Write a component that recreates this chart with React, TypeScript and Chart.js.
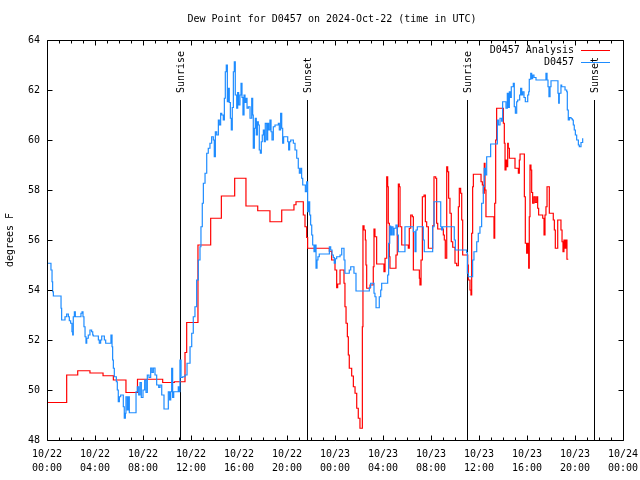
import { useEffect, useRef } from "react";
import { Chart, registerables } from "chart.js";

Chart.register(...registerables);

const FONT = "'DejaVu Sans Mono', monospace";
const TITLE = "Dew Point for D0457 on 2024-Oct-22 (time in UTC)";
const Y_LABEL = "degrees F";
const Y_MIN = 48;
const Y_MAX = 64;
const Y_STEP = 2;
const X_MIN = 0;
const X_MAX = 48;
const X_STEP = 4;
const X_TICK_LABELS = [
  ["10/22", "00:00"], ["10/22", "04:00"], ["10/22", "08:00"], ["10/22", "12:00"],
  ["10/22", "16:00"], ["10/22", "20:00"], ["10/23", "00:00"], ["10/23", "04:00"],
  ["10/23", "08:00"], ["10/23", "12:00"], ["10/23", "16:00"], ["10/23", "20:00"],
  ["10/24", "00:00"],
];

const sunEventHours = [11.1, 21.69, 35.03, 45.6];
const sunEventLabels = ["Sunrise", "Sunset", "Sunrise", "Sunset"];

const ANALYSIS_LABEL = "D0457 Analysis";
const analysisHours = [
  0, 1.64, 2.56, 3.58, 4.67, 5.53, 6.58, 7.54, 9.64, 10.61, 11.5, 11.64, 12.58, 13.64, 14.53,
  15.64, 16.58, 17.56, 18.58, 19.56, 20.58, 20.75, 21.36, 21.5, 21.64, 21.72, 23.53, 23.72,
  24.0, 24.14, 24.22, 24.42, 24.75, 24.83, 24.92, 25.03, 25.11, 25.19, 25.39, 25.53, 25.67,
  25.81, 25.94, 26.08, 26.28, 26.33, 26.42, 26.53, 26.58, 26.64, 26.92, 27.19, 27.25, 27.33,
  27.47, 28.08, 28.17, 28.31, 28.39, 28.44, 28.53, 28.58, 29.08, 29.19, 29.28, 29.36, 29.42,
  29.56, 30.11, 30.19, 30.31, 30.44, 30.53, 31.03, 31.08, 31.17, 31.28, 31.42, 31.53, 31.64,
  31.78, 32.14, 32.25, 32.39, 32.47, 32.56, 33.03, 33.11, 33.19, 33.31, 33.39, 33.47, 33.58,
  33.69, 33.81, 34.0, 34.14, 34.28, 34.36, 34.47, 34.56, 34.64, 35.06, 35.11, 35.25, 35.33,
  35.39, 35.47, 35.53, 36.17, 36.28, 36.36, 36.44, 36.5, 36.58, 37.25, 37.31, 37.39, 37.47,
  38.03, 38.11, 38.17, 38.25, 38.31, 38.39, 38.44, 38.53, 39.0, 39.28, 39.36, 39.42, 39.78,
  39.86, 39.97, 40.06, 40.14, 40.19, 40.25, 40.33, 40.39, 40.47, 40.58, 40.69, 40.81, 40.89,
  40.97, 41.31, 41.42, 41.5, 41.58, 41.67, 41.86, 42.19, 42.28, 42.36, 42.56, 42.83, 42.92,
  43.0, 43.08, 43.17, 43.25, 43.33, 43.44,
];
const analysisValues = [
  49.5, 50.6, 50.77, 50.68, 50.57, 50.4, 49.9, 50.43, 50.3, 50.33, 51.5, 52.7, 55.8, 56.87, 57.76,
  58.47, 57.36, 57.17, 56.73, 57.2, 57.41, 57.53, 57.0, 56.53, 56.1, 55.67, 55.55, 55.2,
  54.8, 54.09, 54.24, 54.8, 54.27, 53.33, 52.67, 52.13, 51.4, 50.87, 50.56, 50.13, 49.87,
  49.27, 48.87, 48.47, 52.53, 56.57, 56.4, 56.0, 55.0, 54.07, 54.2, 54.93, 56.44, 56.13,
  55.04, 54.73, 55.27, 58.53, 58.13, 56.67, 55.33, 54.87, 55.4, 56.53, 58.24, 58.13, 56.53,
  55.8, 55.67, 56.47, 57.0, 56.93, 54.8, 54.47, 54.2, 55.2, 57.73, 57.8, 56.73, 56.53,
  55.67, 56.57, 58.53, 58.47, 56.67, 56.44, 56.2, 56.0, 55.27, 58.93, 58.73, 57.67, 57.07,
  55.93, 55.71, 55.07, 54.97, 57.33, 58.07, 57.87, 56.8, 55.4, 55.0, 54.4, 54.0, 53.8,
  56.27, 58.13, 58.63, 58.33, 58.2, 57.87, 59.07, 58.0, 56.93, 56.07, 57.47, 60.0, 61.27,
  60.67, 59.87, 58.8, 59.2, 58.93, 59.87, 59.67, 59.27, 58.87, 58.67, 59.2, 59.44, 57.73,
  55.87, 55.47, 55.87, 54.87, 56.93, 59.0, 58.8, 57.9, 57.47, 57.73, 57.5, 57.73, 57.27,
  57.0, 56.87, 56.2, 57.0, 57.33, 58.13, 57.07, 56.8, 56.4, 55.67, 56.8, 56.4, 55.93,
  55.53, 56.0, 55.67, 56.0, 55.23, 55.23,
];

const OBS_LABEL = "D0457";
const obsHours = [
  0, 0.33, 0.42, 0.47, 0.53, 1.17, 1.22, 1.5, 1.64, 1.78, 1.86, 1.97, 2.08, 2.14, 2.19, 2.28,
  2.36, 2.83, 2.92, 3.0, 3.08, 3.17, 3.25, 3.31, 3.44, 3.58, 3.72, 3.81, 3.86, 4.28, 4.36,
  4.47, 4.56, 4.78, 4.89, 5.33, 5.42, 5.47, 5.53, 5.61, 5.78, 5.86, 5.94, 6.03, 6.14, 6.36,
  6.44, 6.53, 6.58, 6.69, 6.78, 6.86, 7.42, 7.53, 7.64, 7.75, 7.86, 8.0, 8.14, 8.25, 8.36,
  8.5, 8.64, 8.75, 8.86, 9.0, 9.14, 9.31, 9.42, 9.56, 9.75, 10.06, 10.11, 10.22, 10.31,
  10.39, 10.47, 10.56, 10.94, 11.0, 11.08, 11.17, 11.31, 11.5, 11.67, 11.92, 12.06, 12.19,
  12.33, 12.47, 12.61, 12.75, 12.83, 12.94, 13.03, 13.17, 13.31, 13.44, 13.58, 13.72, 13.86,
  13.94, 14.03, 14.14, 14.28, 14.36, 14.47, 14.56, 14.69, 14.78, 14.86, 14.94, 15.03, 15.11,
  15.19, 15.28, 15.36, 15.44, 15.53, 15.61, 15.69, 15.81, 15.89, 15.97, 16.08, 16.17, 16.25,
  16.33, 16.42, 16.5, 16.58, 16.67, 16.78, 16.92, 17.06, 17.14, 17.19, 17.28, 17.36, 17.44,
  17.53, 17.61, 17.69, 17.78, 17.86, 17.94, 18.03, 18.11, 18.19, 18.31, 18.39, 18.47, 18.58,
  18.67, 18.75, 18.86, 19.0, 19.28, 19.36, 19.47, 19.56, 19.64, 19.72, 20.06, 20.14, 20.22,
  20.31, 20.53, 20.67, 20.81, 20.94, 21.03, 21.14, 21.22, 21.31, 21.53, 21.64, 21.72, 21.81,
  21.89, 21.97, 22.06, 22.14, 22.25, 22.33, 22.42, 22.5, 22.58, 22.69, 23.53, 23.64, 23.75,
  23.86, 23.94, 24.03, 24.14, 24.42, 24.56, 24.75, 24.83, 25.19, 25.31, 25.58, 25.75, 26.86,
  26.97, 27.25, 27.33, 27.42, 27.69, 27.81, 27.89, 28.39, 28.47, 28.56, 28.64, 28.72, 28.83,
  28.92, 29.08, 29.19, 29.28, 29.83, 30.53, 30.67, 30.75, 30.86, 31.36, 31.44, 32.14, 32.25,
  32.81, 32.89, 32.97, 33.94, 34.03, 34.97, 35.03, 35.11, 35.47, 35.58, 35.81, 35.94, 36.08,
  36.22, 36.36, 36.44, 36.53, 36.64, 36.97, 37.53, 37.61, 37.75, 37.89, 37.97, 38.25, 38.36,
  38.44, 38.53, 38.61, 38.69, 38.86, 38.94, 39.03, 39.14, 39.22, 39.39, 39.47, 39.56, 39.64,
  39.75, 39.86, 40.06, 40.14, 40.19, 40.31, 40.39, 40.47, 40.58, 40.75, 41.58, 41.67, 41.75,
  41.83, 41.92, 42.0, 42.58, 42.64, 42.69, 42.83, 42.89, 43.17, 43.31, 43.36, 43.44, 43.53,
  43.67, 43.78, 43.86, 43.94, 44.03, 44.14, 44.28, 44.36, 44.5, 44.64,
];
const obsValues = [
  55.07, 54.8, 54.33, 53.93, 53.76, 53.27, 52.8, 52.93, 53.04, 52.93, 52.77, 52.67, 52.33, 52.2, 52.93, 53.13,
  52.93, 53.07, 53.13, 52.93, 52.53, 52.13, 51.87, 52.07, 52.2, 52.4, 52.33, 52.2, 52.16, 52.0, 51.87,
  52.0, 52.16, 52.0, 51.87, 52.2, 51.73, 51.2, 50.87, 50.53, 50.33, 50.0, 49.53, 49.73, 49.8, 49.33,
  48.87, 49.07, 49.73, 49.2, 49.73, 49.09, 49.93, 50.13, 49.8, 50.3, 49.7, 50.0, 50.4, 49.9, 50.6,
  50.5, 50.88, 50.7, 50.88, 50.6, 50.2, 50.1, 50.2, 49.8, 49.24, 49.24, 49.93, 49.6, 49.93,
  50.87, 49.7, 49.93, 50.13, 49.93, 51.2, 50.5, 50.53, 50.6, 51.07, 51.73, 52.27, 52.93,
  53.33, 54.4, 55.2, 55.73, 56.53, 57.47, 58.27, 58.67, 59.47, 59.67, 59.87, 60.13, 60.0,
  59.33, 60.33, 60.2, 60.8, 60.6, 61.07, 61.0, 60.8, 61.67, 62.73, 63.0, 61.53, 62.07,
  61.5, 60.87, 60.4, 61.3, 62.73, 63.13, 61.8, 61.27, 61.9, 61.4, 61.8, 62.27, 61.7,
  61.0, 61.8, 61.5, 61.67, 61.27, 61.33, 60.87, 61.67, 61.0, 59.67, 60.47, 60.87, 60.2,
  60.73, 60.6, 59.6, 59.47, 59.93, 60.2, 60.4, 59.93, 60.67, 60.0, 60.67, 60.4, 60.8,
  60.33, 60.0, 60.53, 60.6, 60.67, 60.4, 61.07, 60.47, 59.87, 60.13, 59.93, 59.6, 59.93,
  60.0, 59.87, 59.6, 59.27, 58.87, 58.67, 58.87, 58.47, 58.2, 57.93, 58.33, 57.13, 57.53,
  57.0, 56.6, 56.2, 55.8, 55.53, 55.8, 54.87, 55.2, 55.33, 55.44, 55.73, 55.6, 55.4,
  55.3, 55.07, 55.25, 55.33, 55.4, 55.67, 55.2, 54.67, 54.8, 54.93, 54.67, 53.96, 54.1,
  54.27, 53.87, 53.73, 53.29, 53.73, 54.0, 54.27, 54.6, 55.87, 56.56, 56.2, 56.53, 56.2,
  56.47, 56.6, 56.2, 55.53, 56.53, 56.33, 55.53, 56.4, 56.53, 56.0, 55.53, 56.53, 57.53,
  56.53, 56.4, 56.53, 56.0, 55.6, 55.5, 54.67, 54.53, 55.2, 55.53, 55.93, 56.27, 56.53,
  57.47, 58.13, 58.87, 58.6, 59.33, 59.84, 60.8, 60.6, 60.87, 60.75, 61.53, 61.27, 61.87,
  61.3, 61.93, 61.7, 62.13, 62.27, 61.33, 61.07, 61.53, 61.6, 61.8, 62.07, 61.8, 61.93,
  61.7, 61.53, 61.8, 61.93, 62.43, 62.67, 62.45, 62.6, 62.5, 62.4, 62.67, 62.4, 62.13,
  61.73, 62.13, 62.37, 61.87, 61.47, 61.87, 62.2, 62.13, 62.0, 61.93, 61.2, 60.8, 60.9,
  60.85, 60.8, 60.6, 60.4, 60.2, 60.0, 59.8, 59.73, 59.9, 60.07,
];

const ANALYSIS_COLOR = "#ff0000";
const OBS_COLOR = "#1e8cff";

const gnuFrame = {
  id: "gnuFrame",
  beforeDatasetsDraw(chart: any) {
    const { ctx, chartArea: a, scales } = chart;
    const xs = scales.x;
    ctx.save();
    ctx.strokeStyle = "#000";
    ctx.fillStyle = "#000";
    ctx.lineWidth = 1;
    ctx.font = `10px ${FONT}`;
    // title
    ctx.textAlign = "center";
    ctx.textBaseline = "middle";
    ctx.fillText(TITLE, (a.left + a.right) / 2 - 3, 19);
    const lineTop = a.top + (a.bottom - a.top) * 0.15;
    sunEventHours.forEach((h, i) => {
      const px = Math.round(xs.getPixelForValue(h)) + 0.5;
      ctx.beginPath();
      ctx.moveTo(px, lineTop);
      ctx.lineTo(px, a.bottom);
      ctx.stroke();
      ctx.save();
      ctx.translate(px + 1, lineTop - 7);
      ctx.rotate(-Math.PI / 2);
      ctx.textAlign = "left";
      ctx.textBaseline = "middle";
      ctx.fillText(sunEventLabels[i], 0, 0);
      ctx.restore();
    });
    ctx.restore();
  },
  afterDatasetsDraw(chart: any) {
    const { ctx, chartArea: a, scales } = chart;
    const xs = scales.x;
    const ys = scales.y;
    ctx.save();
    ctx.strokeStyle = "#000";
    ctx.lineWidth = 1;
    const L = Math.round(a.left) + 0.5;
    const R = Math.round(a.right) + 0.5;
    const T = Math.round(a.top) + 0.5;
    const B = Math.round(a.bottom) + 0.5;
    ctx.beginPath();
    ctx.rect(L, T, R - L, B - T);
    ctx.stroke();
    ctx.beginPath();
    for (let h = X_MIN; h <= X_MAX; h += 1) {
      const px = Math.round(xs.getPixelForValue(h)) + 0.5;
      const len = h % X_STEP === 0 ? 5 : 3;
      ctx.moveTo(px, B);
      ctx.lineTo(px, B - len);
      ctx.moveTo(px, T);
      ctx.lineTo(px, T + len);
    }
    for (let v = Y_MIN; v <= Y_MAX; v += Y_STEP) {
      const py = Math.round(ys.getPixelForValue(v)) + 0.5;
      ctx.moveTo(L, py);
      ctx.lineTo(L + 5, py);
      ctx.moveTo(R, py);
      ctx.lineTo(R - 5, py);
    }
    ctx.stroke();
    // legend
    ctx.font = `10px ${FONT}`;
    ctx.fillStyle = "#000";
    ctx.textAlign = "right";
    ctx.textBaseline = "middle";
    chart.data.datasets.forEach((ds: any, i: number) => {
      const y = a.top + 10 + i * 12;
      ctx.fillText(ds.label, a.right - 49, y);
      ctx.strokeStyle = ds.borderColor;
      ctx.beginPath();
      ctx.moveTo(a.right - 42, Math.round(y) + 0.5);
      ctx.lineTo(a.right - 13, Math.round(y) + 0.5);
      ctx.stroke();
    });
    ctx.restore();
  },
};

export default function App() {
  const ref = useRef<HTMLCanvasElement | null>(null);
  useEffect(() => {
    if (!ref.current) return;
    Chart.defaults.font.family = FONT;
    Chart.defaults.font.size = 10;
    Chart.defaults.color = "#000";
    const chart = new Chart(ref.current, {
      type: "line",
      data: {
        datasets: [
          {
            label: ANALYSIS_LABEL,
            data: analysisHours.map((h, i) => ({ x: h, y: analysisValues[i] })),
            borderColor: ANALYSIS_COLOR,
            backgroundColor: ANALYSIS_COLOR,
            borderWidth: 1.2,
            pointRadius: 0,
            stepped: true,
            fill: false,
            order: 1,
          },
          {
            label: OBS_LABEL,
            data: obsHours.map((h, i) => ({ x: h, y: obsValues[i] })),
            borderColor: OBS_COLOR,
            backgroundColor: OBS_COLOR,
            borderWidth: 1.2,
            pointRadius: 0,
            stepped: true,
            fill: false,
            order: 0,
          },
        ],
      },
      options: {
        animation: false,
        responsive: false,
        devicePixelRatio: 1,
        layout: { padding: { left: 0, right: 17, top: 40, bottom: 0 } },
        plugins: {
          legend: { display: false },
          tooltip: { enabled: false },
          title: { display: false },
        },
        scales: {
          x: {
            type: "linear",
            min: X_MIN,
            max: X_MAX,
            grid: { display: false, drawTicks: false },
            border: { display: false },
            ticks: {
              stepSize: X_STEP,
              autoSkip: false,
              maxRotation: 0,
              minRotation: 0,
              padding: 7,
              font: { family: FONT, size: 10, lineHeight: 1.4 },
              callback: (_v: any, i: number) => X_TICK_LABELS[i],
            },
            afterFit: (s: any) => {
              s.height = 40;
              s.paddingLeft = 0;
              s.paddingRight = 0;
            },
          },
          y: {
            min: Y_MIN,
            max: Y_MAX,
            grid: { display: false, drawTicks: false },
            border: { display: false },
            ticks: { stepSize: Y_STEP, padding: 7, font: { family: FONT, size: 10 } },
            title: {
              display: true,
              text: Y_LABEL,
              font: { family: FONT, size: 10, lineHeight: 1.2 },
              padding: { top: 4, bottom: 0 },
            },
            afterFit: (s: any) => {
              s.width = 47;
              s.paddingTop = 0;
              s.paddingBottom = 0;
            },
          },
        },
      },
      plugins: [gnuFrame],
    });
    return () => chart.destroy();
  }, []);
  return (
    <div style={{ position: "fixed", left: 0, top: 0, width: 640, height: 480, background: "#fff" }}>
      <canvas ref={ref} width={640} height={480} style={{ display: "block" }} />
    </div>
  );
}
